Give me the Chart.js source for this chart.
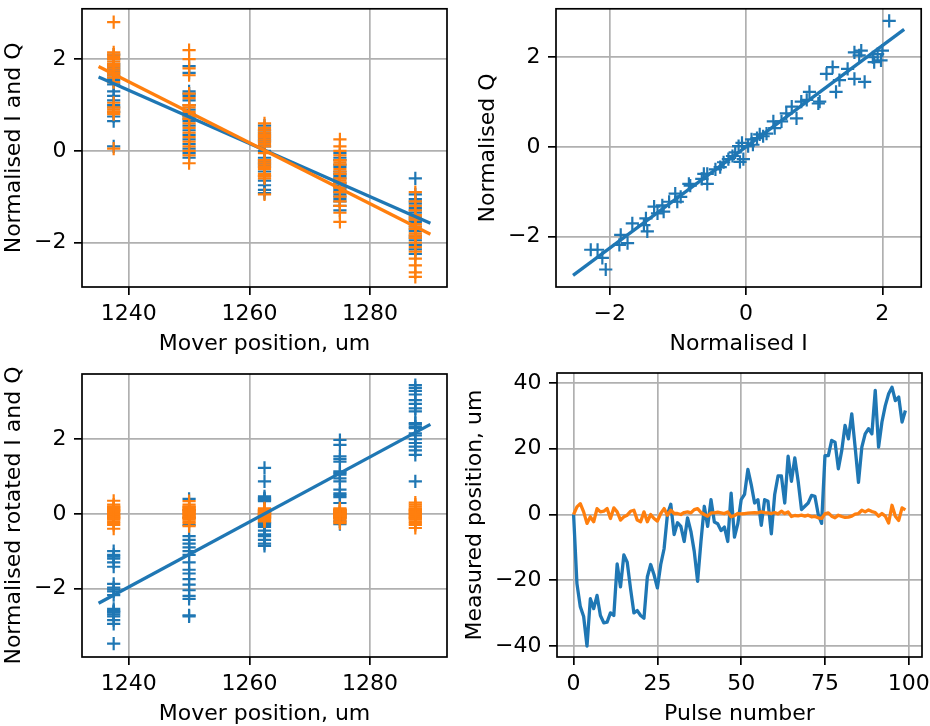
<!DOCTYPE html>
<html>
<head>
<meta charset="utf-8">
<script src="https://cdn.jsdelivr.net/npm/chart.js@4.4.0/dist/chart.umd.min.js"></script>
<style>
    body { margin: 0; background: #fff; }
    #wrap { position: relative; width: 930px; height: 726px; }
    #wrap canvas { position: absolute; }
</style>
</head>
<body>
<div id="wrap">
    <canvas id="chartIQ" width="465" height="363" style="left:0;top:0"></canvas>
    <canvas id="chartQvsI" width="465" height="363" style="left:465px;top:0"></canvas>
    <canvas id="chartRot" width="465" height="363" style="left:0;top:363px"></canvas>
    <canvas id="chartPulse" width="465" height="363" style="left:465px;top:363px"></canvas>
</div>
<script>
var blue = '#1f77b4';
var orange = '#ff7f0e';

// mover positions (um), one column of pulses each
var positions = [1237.5, 1250, 1262.5, 1275, 1287.5];

// normalised I and Q at each position
var normIByPos = [
    [2.1, 2.0, 1.9, 1.85, 1.75, 1.65, 1.6, 1.55, 1.45, 1.3, 1.2, 1.1, 1.0, 0.95, 0.85, 0.75, 0.65, 1.8, 1.7, 0.1],
    [1.85, 1.7, 1.3, 1.2, 1.1, 1.0, 0.9, 0.8, 0.75, 0.65, 0.55, 0.45, 0.35, 0.25, 0.15, 0.05, -0.05, -0.15, 0.7, 1.25],
    [0.55, 0.45, 0.35, 0.25, 0.2, 0.1, -0.15, -0.25, -0.3, -0.35, -0.45, -0.55, -0.65, -0.75, -0.85, 0.3, 0.4, -0.2, -0.92, 0.0],
    [-0.05, -0.15, -0.3, -0.45, -0.55, -0.6, -0.7, -0.8, -0.9, -1.0, -1.1, -1.2, -1.3, -0.75, -0.5, -0.35, -0.2, -0.85, -0.95, -1.05],
    [-0.6, -0.95, -1.05, -1.15, -1.25, -1.35, -1.45, -1.55, -1.65, -1.75, -1.85, -1.95, -2.05, -2.15, -2.25, -1.3, -1.5, -1.7, -1.9, -1.1]
];
var normQByPos = [
    [2.81, 2.1, 2.05, 2.0, 1.95, 1.9, 1.85, 1.8, 1.7, 1.6, 1.5, 1.05, 0.95, 0.9, 0.85, 0.8, 1.75, 2.15, 0.05, 1.65],
    [2.2, 2.0, 1.8, 1.65, 1.25, 1.15, 1.0, 0.85, 0.7, 0.6, 0.5, 0.4, 0.3, 0.2, 0.1, 0.0, -0.1, -0.27, 0.75, 0.95],
    [0.6, 0.5, 0.4, 0.3, 0.2, 0.1, -0.05, -0.2, -0.3, -0.4, -0.5, -0.55, -0.6, -0.95, 0.45, 0.35, -0.25, 0.15, -0.35, 0.25],
    [0.25, 0.1, 0.0, -0.1, -0.2, -0.3, -0.4, -0.5, -0.6, -0.7, -0.8, -0.9, -1.0, -1.1, -1.2, -1.35, -1.55, -0.45, -0.65, -0.25],
    [-0.9, -1.1, -1.2, -1.3, -1.4, -1.5, -1.6, -1.7, -1.8, -1.9, -2.0, -2.1, -2.2, -2.35, -2.5, -2.65, -2.75, -1.45, -1.65, -1.85]
];
var fitX = [1235, 1290];
var fitI = [1.61, -1.58];
var fitQ = [1.84, -1.82];

// Q against I
var scatterI = [-2.28, -2.18, -2.11, -2.06, -1.84, -1.86, -1.74, -1.67, -1.50, -1.45, -1.47, -1.35, -1.30, -1.23, -1.21,
    -1.13, -1.04, -1.01, -0.96, -0.84, -0.82, -0.65, -0.62, -0.57, -0.57, -0.45, -0.38, -0.33, -0.26, -0.2, -0.16, -0.11,
    -0.09, -0.06, -0.04, 0.03, 0.08, 0.1, 0.16, 0.2, 0.25, 0.3, 0.40, 0.42, 0.52, 0.59, 0.67, 0.74, 0.81, 0.89, 0.93, 1.06,
    1.08, 1.18, 1.27, 1.32, 1.37, 1.49, 1.59, 1.59, 1.66, 1.69, 1.74, 1.86, 1.88, 1.93, 1.98, 2.0, 2.10];
var scatterQ = [-2.29, -2.29, -2.47, -2.73, -1.96, -2.18, -2.14, -1.70, -1.74, -1.88, -1.59, -1.33, -1.48, -1.30, -1.44,
    -1.22, -1.04, -1.22, -1.11, -0.82, -0.86, -0.71, -0.6, -0.60, -0.82, -0.5, -0.45, -0.34, -0.27, -0.2, -0.12, 0.02,
    -0.33, 0.09, -0.27, 0.02, 0.17, 0.05, 0.2, 0.28, 0.24, 0.3, 0.57, 0.42, 0.57, 0.75, 0.90, 0.64, 1.01, 1.05, 1.23, 0.97,
    1.01, 1.63, 1.78, 1.23, 1.49, 1.74, 1.52, 2.11, 2.04, 2.15, 1.45, 2.0, 1.89, 2.07, 1.93, 2.15, 2.81];
var iqFitX = [-2.54, 2.32];
var iqFitY = [-2.86, 2.62];

// rotated I and Q at each position
var rotIByPos = [
    [-1.0, -1.1, -1.2, -1.3, -1.42, -1.88, -1.98, -2.08, -2.18, -2.55, -2.6, -2.65, -2.7, -2.75, -2.85, -2.95, -3.48, -2.03, -1.15, -2.62],
    [0.4, 0.1, -0.1, -0.3, -0.6, -0.7, -0.8, -0.9, -1.0, -1.1, -1.3, -1.5, -1.6, -1.75, -1.9, -2.05, -2.2, -2.28, -2.72, -2.75],
    [1.23, 0.87, 0.47, 0.42, 0.37, 0.34, 0.1, 0.0, -0.1, -0.24, -0.3, -0.35, -0.45, -0.55, -0.6, -0.7, -0.8, -0.86, 0.4, -0.25],
    [1.98, 1.85, 1.54, 1.47, 1.4, 1.14, 1.05, 0.95, 0.87, 0.65, 0.55, 0.45, 0.29, 0.1, 0.0, -0.1, -0.2, -0.28, 1.1, 0.5],
    [3.45, 3.38, 3.3, 3.2, 3.05, 2.83, 2.75, 2.43, 2.34, 2.3, 2.16, 2.1, 2.0, 1.9, 1.8, 1.7, 1.58, 0.87, 2.4, 2.95]
];
var rotQByPos = [
    [0.35, 0.25, 0.2, 0.15, 0.1, 0.05, 0.0, -0.05, -0.1, -0.15, -0.2, -0.3, -0.4, 0.12, -0.02, -0.08, 0.08, -0.12, 0.18, -0.25],
    [0.34, 0.2, 0.15, 0.1, 0.05, 0.0, -0.05, -0.1, -0.15, -0.2, -0.33, 0.25, 0.12, -0.02, -0.08, 0.08, -0.12, 0.18, -0.25, 0.02],
    [0.15, 0.1, 0.05, 0.0, -0.05, -0.1, -0.15, -0.2, 0.08, -0.02, 0.02, -0.08, 0.12, -0.12, 0.04, -0.04, 0.06, -0.06, 0.0, -0.18],
    [0.1, 0.05, 0.0, -0.05, -0.1, -0.15, -0.2, 0.02, -0.02, -0.08, 0.08, -0.12, 0.04, -0.04, 0.06, -0.06, 0.12, -0.25, 0.15, 0.0],
    [0.3, 0.2, 0.1, 0.05, 0.0, -0.05, -0.1, -0.15, -0.25, -0.38, 0.25, 0.15, -0.2, -0.3, 0.08, -0.08, 0.12, -0.12, 0.02, -0.02]
];
var rotFit = [-2.4, 2.4];

// measured position per pulse (um)
var measuredA = [0, -21, -28, -31, -40, -25.6, -28.6, -24.6, -30.7, -32.9,
    -32.7, -29.9, -30.7, -15, -22, -12.3, -14.5, -22.6, -29.9, -29.2,
    -30.7, -31.5, -19, -15.2, -18.3, -22.3, -15.2, -10.4, 0, 3.1,
    -6.1, -2.5, -3.6, -8.2, -1, -5.1, -11.2, -20.3, -8.2, 2.5,
    -3.6, 4.5, -2.3, -2.8, -4.9, -3.8, -8.2, 6.5, -6.9, -2.8,
    4.5, 6.1, 13.7, 9.1, 3.5, 4.5, -3.3, 4.5, 4, -5.9,
    6.1, 11.7, 11.7, 3.5, 17.7, 10.1, 17.2, 10.1, 1.5, 2.5,
    3.5, 5.8, 5.5, 0, -2.7, 17.9, 17.9, 22.5, 22, 13.9,
    19.4, 27.1, 23, 30.6, 20.5, 9.8, 20.5, 24.5, 26.1, 24.5,
    37.7, 20.5, 28.1, 33.1, 36.7, 38.7, 34.6, 35.7, 28.1, 31.6];
var measuredB = [0, 2.3, 3.3, 0.8, -2.7, -0.7, -2.2, 1.8, 0.8, 1,
    1.8, -1.2, 2, 0.8, -1.7, -0.7, -0.2, 1, 1.3, -1.7,
    -2.2, 0.8, -2.2, 0, -1.2, -2, 0.3, 1.8, -0.2, 1.3,
    0.3, 0.3, 0, 0.6, 0.8, 0.5, 1.5, 1.8, 0.6, 0,
    -0.5, 0.5, 0.5, 0.7, 0.5, 0.3, 0.8, -0.7, -0.3, 0.3,
    0.2, 0.3, 0.4, 0.5, 0.6, 0.5, 0.8, 0.6, 0.5, 0.3,
    0.6, 0.2, 1, 0.3, 0.8, -0.6, -0.3, -0.4, -0.2, -0.5,
    -0.2, -0.7, -0.6, -1.0, -1.2, 0.2, 0.5, -0.5, -1.0, -0.2,
    -0.6, -0.9, -0.8, -0.5, 0.1, 0.3, 1.3, 0.8, 1.4, 0.9,
    0.6, -0.5, 0.3, -0.5, -2.6, 2.8, -0.5, -1.8, 2.0, 1.4];


function fmt(v) {
    return v < 0 ? '\u2212' + (-v) : String(v);
}

function columns(byPos) {
    var pts = [];
    for (var p = 0; p < positions.length; p++) {
        for (var k = 0; k < byPos[p].length; k++) {
            pts.push({ x: positions[p], y: byPos[p][k] });
        }
    }
    return pts;
}

function pairs(xs, ys) {
    var pts = [];
    for (var i = 0; i < xs.length; i++) pts.push({ x: xs[i], y: ys[i] });
    return pts;
}

function crosses(pts, color, order) {
    return {
        data: pts, order: order, showLine: false,
        pointStyle: 'cross', pointRadius: 6.6, pointBorderWidth: 2.2,
        borderColor: color, backgroundColor: color
    };
}

function line(pts, color, order) {
    return {
        data: pts, order: order, showLine: true, pointRadius: 0,
        borderColor: color, borderWidth: 3.3, borderJoinStyle: 'round', tension: 0, fill: false
    };
}

function axis(min, max, ticks, size, isX) {
    return {
        type: 'linear', min: min, max: max,
        afterBuildTicks: function (s) {
            s.ticks = ticks.map(function (v) { return { value: v }; });
        },
        afterFit: function (s) {
            if (isX) s.height = size; else s.width = size;
            s.paddingLeft = 0; s.paddingRight = 0; s.paddingTop = 0; s.paddingBottom = 0;
        },
        grid: { color: '#b0b0b0', lineWidth: 1.7, tickColor: '#000', tickWidth: 1.7, tickLength: 8 },
        border: { display: false },
        ticks: {
            color: '#000', font: { family: 'DejaVu Sans', size: 22, lineHeight: 1 },
            padding: isX ? 8 : 7.5, autoSkip: false, maxRotation: 0,
            callback: function (v) { return fmt(v); }
        }
    };
}

// spines on all four sides and matplotlib style axis labels
var framePlugin = {
    id: 'frame',
    afterDatasetsDraw: function (chart) {
        var a = chart.chartArea, ctx = chart.ctx;
        ctx.save();
        ctx.strokeStyle = '#000';
        ctx.lineWidth = 1.7;
        ctx.strokeRect(a.left, a.top, a.right - a.left, a.bottom - a.top);
        ctx.restore();
    },
    afterDraw: function (chart, args, opts) {
        var a = chart.chartArea, ctx = chart.ctx;
        ctx.save();
        ctx.fillStyle = '#000';
        ctx.font = '22px "DejaVu Sans"';
        ctx.textAlign = 'center';
        ctx.textBaseline = 'alphabetic';
        ctx.fillText(opts.x, (a.left + a.right) / 2, a.bottom + 63);
        ctx.translate(opts.yAt, (a.top + a.bottom) / 2);
        ctx.rotate(-Math.PI / 2);
        ctx.fillText(opts.y, 0, 0);
        ctx.restore();
    }
};

function makeChart(id, datasets, box, xAxis, yAxis, titles) {
    return new Chart(document.getElementById(id), {
        type: 'scatter',
        data: { datasets: datasets },
        options: {
            responsive: false, animation: false, events: [],
            layout: { padding: { left: 0, top: box.top, right: box.right, bottom: 0 } },
            scales: { x: xAxis, y: yAxis },
            plugins: { legend: { display: false }, tooltip: { enabled: false }, frame: titles }
        },
        plugins: [framePlugin]
    });
}

makeChart('chartIQ', [
    crosses(columns(normIByPos), blue, 4),
    crosses(columns(normQByPos), orange, 3),
    line(pairs(fitX, fitI), blue, 2),
    line(pairs(fitX, fitQ), orange, 1)
], { top: 5, right: 18 },
    axis(1232.25, 1292.75, [1240, 1260, 1280], 76, true),
    axis(-2.97, 3.1, [-2, 0, 2], 82, false),
    { x: 'Mover position, um', y: 'Normalised I and Q', yAt: 20 });

makeChart('chartQvsI', [
    crosses(pairs(scatterI, scatterQ), blue, 2),
    line(pairs(iqFitX, iqFitY), blue, 1)
], { top: 5, right: 8 },
    axis(-2.79, 2.57, [-2, 0, 2], 76, true),
    axis(-3.12, 3.08, [-2, 0, 2], 91, false),
    { x: 'Normalised I', y: 'Normalised Q', yAt: 29 });

makeChart('chartRot', [
    crosses(columns(rotIByPos), blue, 3),
    crosses(columns(rotQByPos), orange, 2),
    line(pairs(fitX, rotFit), blue, 1)
], { top: 11, right: 18 },
    axis(1232.25, 1292.75, [1240, 1260, 1280], 69, true),
    axis(-3.84, 3.75, [-2, 0, 2], 82, false),
    { x: 'Mover position, um', y: 'Normalised rotated I and Q', yAt: 20 });

var pulses = measuredA.map(function (v, i) { return i; });
makeChart('chartPulse', [
    line(pairs(pulses, measuredA), blue, 2),
    line(pairs(pulses, measuredB), orange, 1)
], { top: 10, right: 8 },
    axis(-4.95, 103.95, [0, 25, 50, 75, 100], 69, true),
    axis(-43.3, 43.0, [-40, -20, 0, 20, 40], 92, false),
    { x: 'Pulse number', y: 'Measured position, um', yAt: 16 });
</script>
</body>
</html>
